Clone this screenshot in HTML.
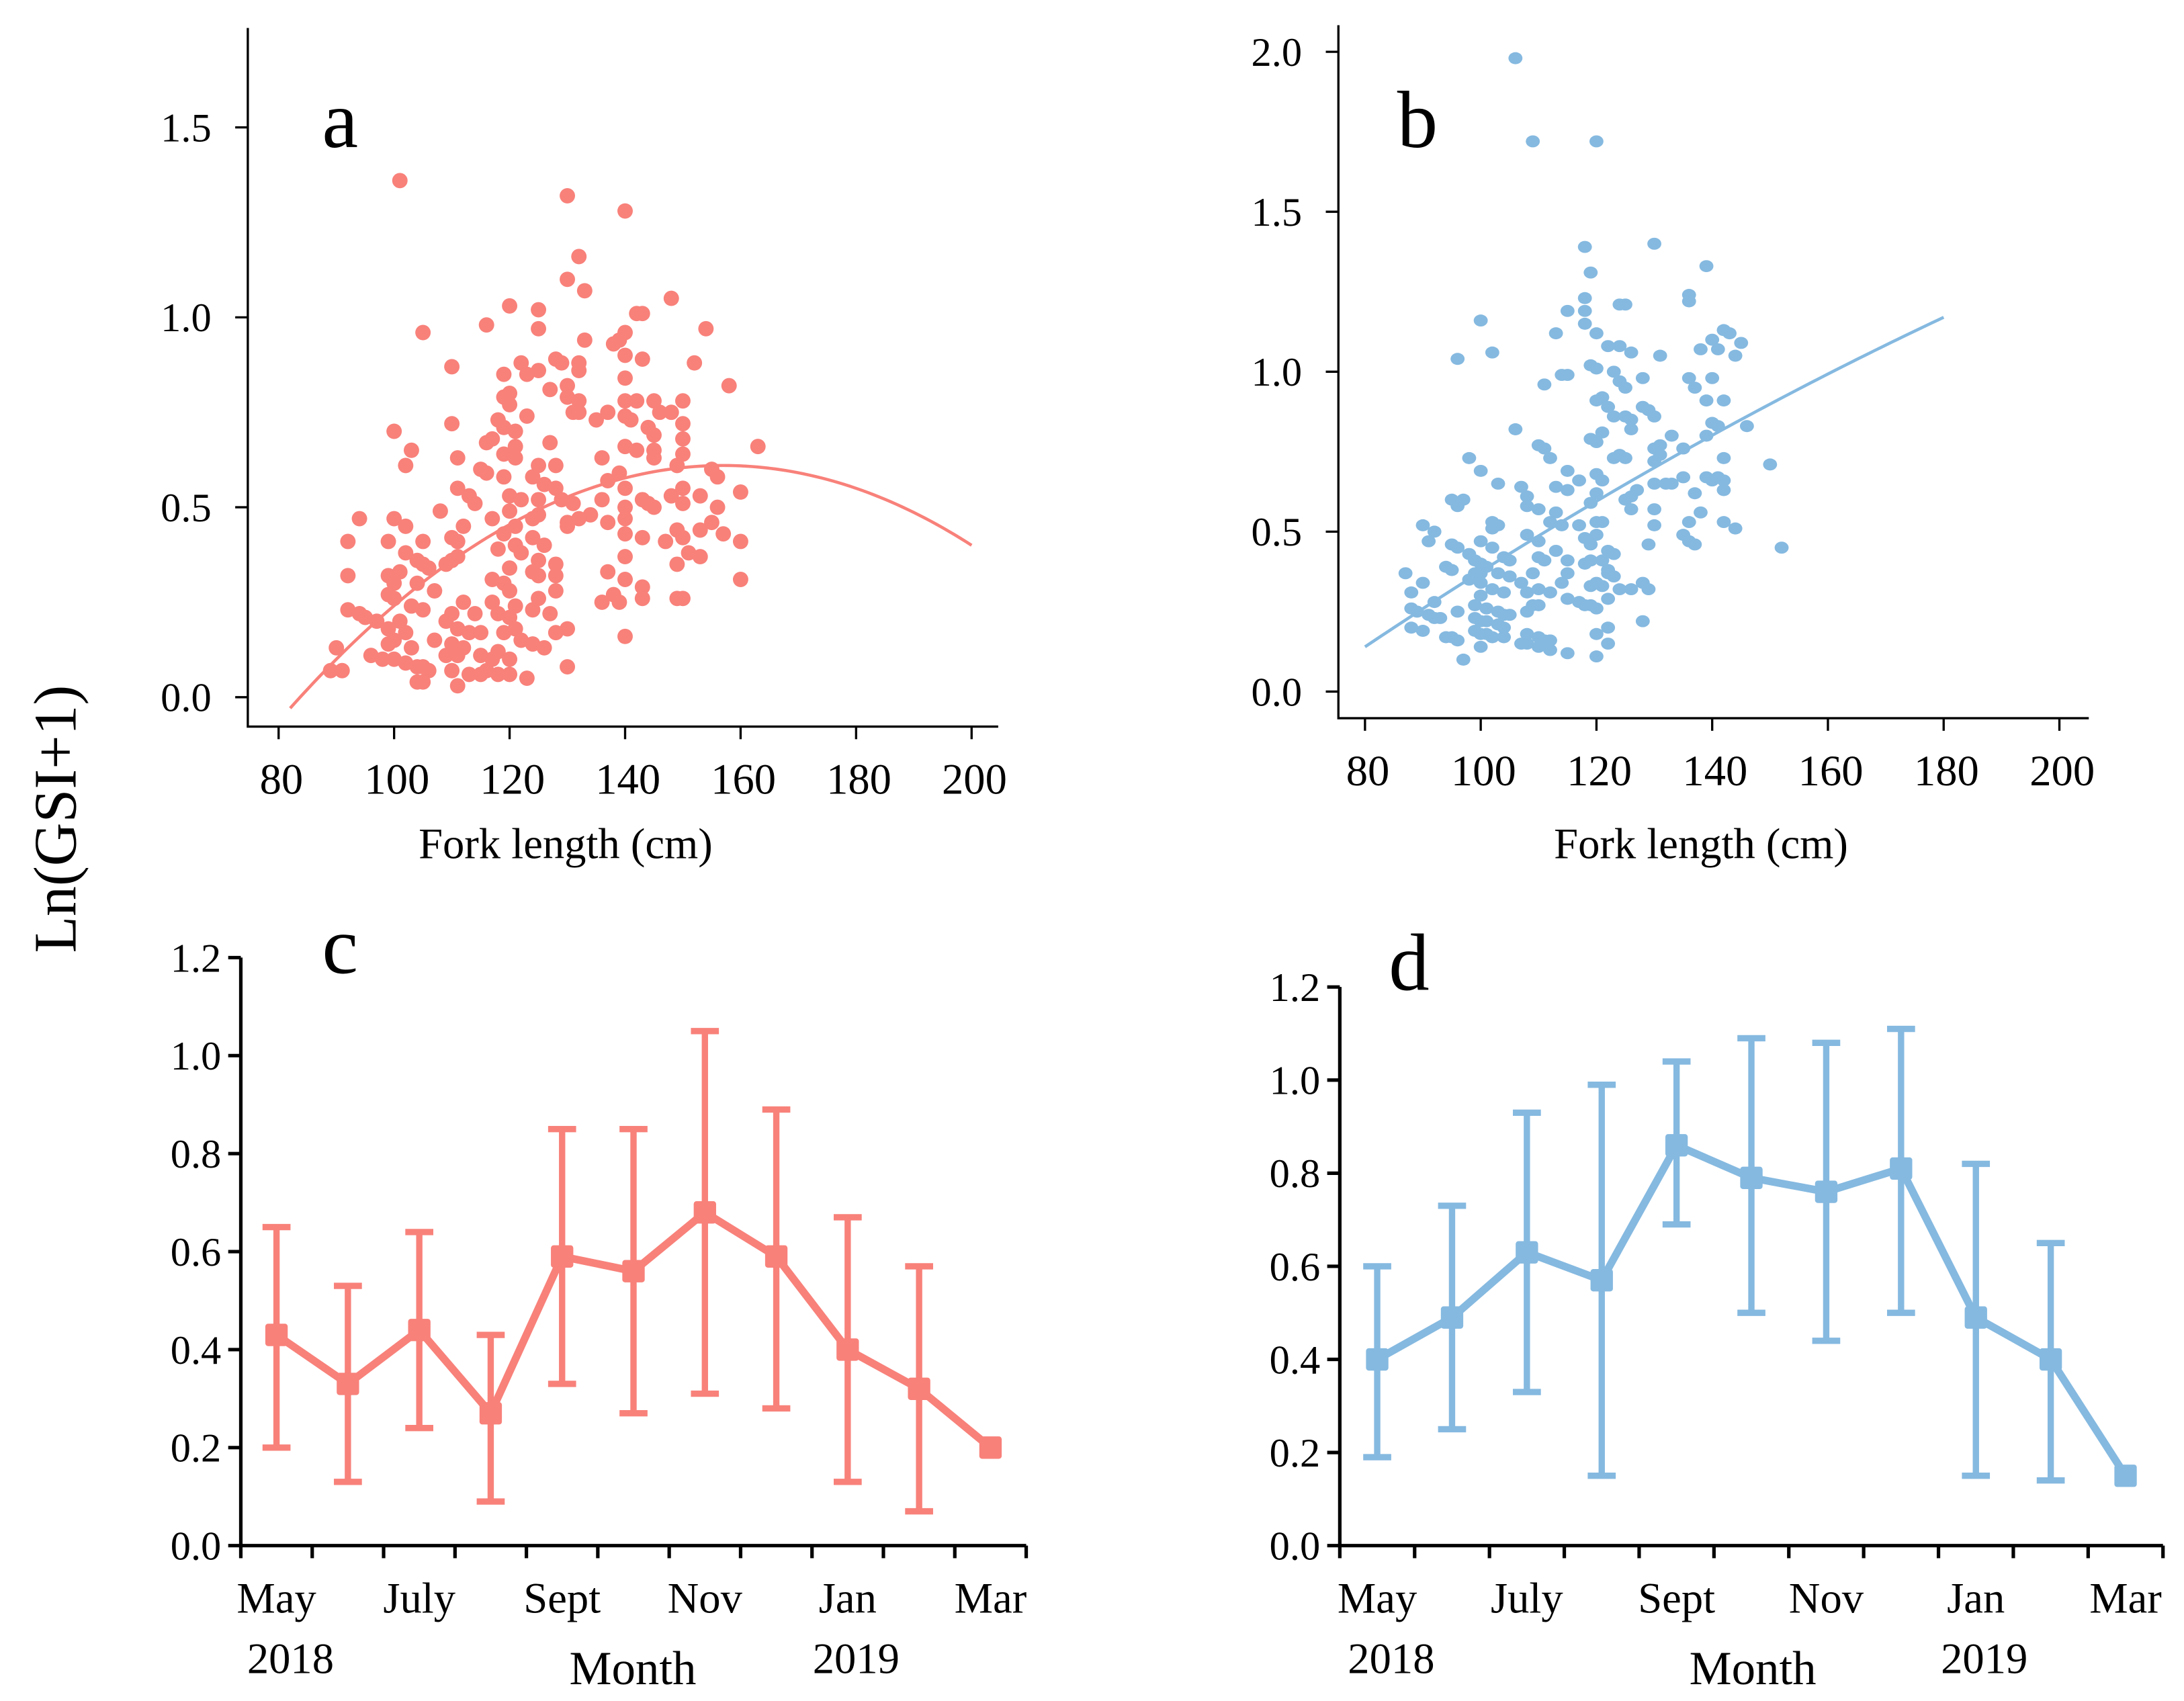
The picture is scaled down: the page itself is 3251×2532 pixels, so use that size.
<!DOCTYPE html>
<html><head><meta charset="utf-8">
<style>
html,body{margin:0;padding:0;background:#fff;}
svg{display:block;}
text{font-family:"Liberation Serif",serif;fill:#000;}
</style></head>
<body>
<svg id="fig" xmlns="http://www.w3.org/2000/svg" width="3251" height="2532" viewBox="0 0 1560 1215">
<rect width="1560" height="1215" fill="#fff"/>
<text x="0" y="0" font-size="43" text-anchor="middle" transform="translate(54,585) rotate(-90)">Ln(GSI+1)</text>
</svg>
<script>
// ---------- DATA ----------
const aFL=[101,130,140,132,130,133,148,120,125,142,143,116,125,154,105,140,139,133,138,140,128,143,152,122,132,129,110,125,132,123,119,130,140,158,127,120,119,130,132,140,142,145,150,120,146,148,131,132,137,123,135,140,141,118,150,110,119,121,144,100,145,117,150,116,127,163,121,140,142,103,145,119,150,121,145,111,136,125,128,102,149,115,116,155,139,119,124,156,137,126,128,140,111,150,153,120,125,113,122,136,143,148,160,114,129,131,144,150,156,140,145,108,120,125,134,130,100,94,132,117,137,124,140,155,112,102,121,130,149,153,140,157,119,110,99,92,105,111,124,143,150,147,160,126,121,118,102,122,151,153,140,111,104,110,125,128,105,149,109,106,120,124,99,92,101,137,128,125,160,117,140,104,119,143,100,107,128,99,120,138,149,150,112,100,103,117,121,125,136,139,143,92,94,95,110,114,105,118,124,97,101,109,120,127,99,111,113,115,119,121,130,102,128,140,107,100,110,122,124,99,112,90,103,118,126,96,98,100,102,104,105,106,109,111,115,117,120,89,91,110,113,115,118,120,123,130,104,105,111,116];
const aGSI=[1.36,1.32,1.28,1.16,1.10,1.07,1.05,1.03,1.02,1.01,1.01,0.98,0.97,0.97,0.96,0.96,0.94,0.94,0.93,0.90,0.89,0.89,0.88,0.88,0.88,0.88,0.87,0.86,0.86,0.85,0.85,0.82,0.84,0.82,0.81,0.80,0.79,0.79,0.78,0.78,0.78,0.78,0.78,0.77,0.75,0.75,0.75,0.75,0.75,0.74,0.73,0.74,0.73,0.73,0.72,0.72,0.71,0.70,0.71,0.70,0.69,0.68,0.68,0.67,0.67,0.66,0.66,0.66,0.65,0.65,0.65,0.64,0.64,0.63,0.63,0.63,0.63,0.61,0.61,0.61,0.61,0.60,0.59,0.60,0.59,0.58,0.58,0.58,0.57,0.56,0.55,0.55,0.55,0.55,0.53,0.53,0.52,0.53,0.52,0.52,0.52,0.53,0.54,0.51,0.52,0.51,0.51,0.51,0.50,0.50,0.50,0.49,0.49,0.48,0.48,0.46,0.47,0.47,0.47,0.47,0.46,0.47,0.47,0.46,0.45,0.45,0.45,0.45,0.44,0.44,0.43,0.43,0.43,0.42,0.41,0.41,0.41,0.41,0.42,0.42,0.42,0.41,0.41,0.40,0.40,0.39,0.38,0.38,0.38,0.37,0.37,0.37,0.36,0.36,0.36,0.35,0.35,0.35,0.35,0.34,0.34,0.33,0.32,0.32,0.33,0.33,0.32,0.32,0.31,0.31,0.31,0.30,0.30,0.29,0.30,0.28,0.28,0.27,0.28,0.27,0.26,0.26,0.25,0.26,0.24,0.25,0.24,0.26,0.25,0.25,0.26,0.23,0.22,0.21,0.22,0.22,0.23,0.22,0.23,0.20,0.20,0.20,0.21,0.22,0.18,0.18,0.17,0.17,0.17,0.18,0.18,0.17,0.17,0.16,0.15,0.15,0.14,0.15,0.14,0.14,0.13,0.13,0.13,0.12,0.13,0.11,0.10,0.10,0.09,0.08,0.08,0.07,0.11,0.11,0.11,0.10,0.10,0.07,0.07,0.07,0.06,0.06,0.06,0.06,0.05,0.08,0.04,0.04,0.03,0.07];
const aFitCoef=[0.61,157,0.0001136]; // peak value, peak FL, curvature
const aFitRange=[82,200];

const bFL=[106,109,120,118,130,139,119,136,136,118,124,125,115,118,100,118,113,120,142,143,140,145,141,138,122,124,102,126,131,144,96,119,120,123,114,115,128,136,140,111,124,125,137,120,121,139,142,122,128,129,130,123,126,125,140,141,146,106,126,121,133,139,119,110,111,120,130,131,135,124,125,123,112,98,150,142,100,115,120,130,131,135,139,140,141,142,103,107,113,115,117,121,130,132,133,142,137,120,127,126,108,95,97,96,108,110,113,119,125,126,130,138,102,103,102,90,92,112,114,117,120,121,130,136,142,144,108,110,100,91,95,96,102,113,118,119,120,122,123,129,135,136,137,152,98,99,100,101,104,105,110,111,115,118,119,121,122,87,94,95,99,100,103,105,107,109,114,115,122,123,90,98,100,102,104,108,110,112,119,120,121,124,126,128,129,88,92,100,99,101,103,104,105,108,109,110,115,117,118,119,120,122,88,89,91,92,93,96,99,100,101,103,104,128,88,90,94,95,96,99,100,101,102,104,107,108,108,110,110,111,112,112,115,120,122,122,100,97,120];
const bGSI=[1.98,1.72,1.72,1.39,1.40,1.33,1.31,1.24,1.22,1.23,1.21,1.21,1.19,1.19,1.16,1.15,1.12,1.12,1.13,1.12,1.10,1.09,1.07,1.07,1.08,1.08,1.06,1.06,1.05,1.05,1.04,1.02,1.01,1.00,0.99,0.99,0.98,0.98,0.98,0.96,0.97,0.95,0.95,0.91,0.92,0.91,0.91,0.89,0.89,0.88,0.86,0.86,0.85,0.86,0.84,0.83,0.83,0.82,0.82,0.81,0.80,0.80,0.79,0.77,0.76,0.78,0.76,0.77,0.76,0.74,0.73,0.73,0.73,0.73,0.71,0.73,0.69,0.69,0.68,0.72,0.74,0.67,0.67,0.66,0.67,0.66,0.65,0.64,0.64,0.63,0.66,0.66,0.65,0.65,0.65,0.63,0.62,0.62,0.63,0.61,0.61,0.60,0.60,0.58,0.58,0.57,0.56,0.59,0.60,0.57,0.57,0.56,0.53,0.52,0.51,0.52,0.50,0.53,0.52,0.52,0.53,0.53,0.52,0.53,0.53,0.51,0.49,0.47,0.47,0.47,0.46,0.45,0.45,0.44,0.48,0.46,0.49,0.44,0.43,0.46,0.49,0.47,0.46,0.45,0.43,0.41,0.40,0.39,0.42,0.41,0.42,0.41,0.41,0.40,0.41,0.41,0.38,0.37,0.39,0.38,0.37,0.37,0.37,0.36,0.34,0.37,0.34,0.37,0.37,0.36,0.34,0.35,0.34,0.32,0.31,0.31,0.32,0.31,0.33,0.34,0.33,0.32,0.32,0.34,0.32,0.31,0.28,0.30,0.27,0.26,0.25,0.24,0.24,0.25,0.27,0.27,0.29,0.28,0.27,0.27,0.26,0.29,0.26,0.25,0.24,0.23,0.23,0.25,0.23,0.22,0.22,0.21,0.20,0.22,0.20,0.19,0.17,0.17,0.16,0.19,0.18,0.18,0.17,0.17,0.15,0.18,0.15,0.17,0.14,0.16,0.13,0.16,0.12,0.18,0.20,0.15,0.14,0.10,0.11];
const bFitCoef=[0.7,130,0.0103,-0.000018]; // value at center, center FL, slope, curvature
const bFitRange=[80,180];

const months=["May","Jun","July","Aug","Sept","Oct","Nov","Dec","Jan","Feb","Mar"];
const monthLabels=["May","","July","","Sept","","Nov","","Jan","","Mar"];
const cMean=[0.43,0.33,0.44,0.27,0.59,0.56,0.68,0.59,0.40,0.32,0.20];
const cUpper=[0.65,0.53,0.64,0.43,0.85,0.85,1.05,0.89,0.67,0.57,null];
const cLower=[0.20,0.13,0.24,0.09,0.33,0.27,0.31,0.28,0.13,0.07,null];
const dMean=[0.40,0.49,0.63,0.57,0.86,0.79,0.76,0.81,0.49,0.40,0.15];
const dUpper=[0.60,0.73,0.93,0.99,1.04,1.09,1.08,1.11,0.82,0.65,null];
const dLower=[0.19,0.25,0.33,0.15,0.69,0.50,0.44,0.50,0.15,0.14,null];
const aYTicks=[0,0.5,1.0,1.5];
const bYTicks=[0,0.5,1.0,1.5,2.0];
const flTicks=[80,100,120,140,160,180,200];
const monthYTicks=[0,0.2,0.4,0.6,0.8,1.0,1.2];

// ---------- DRAWING ----------
const NS="http://www.w3.org/2000/svg";
const svg=document.getElementById('fig');
function mk(tag,attrs,parent){const e=document.createElementNS(NS,tag);for(const k in attrs)e.setAttribute(k,attrs[k]);(parent||svg).appendChild(e);return e;}
function lin(d0,d1,p0,p1){return v=>p0+(v-d0)*(p1-p0)/(d1-d0);}
const RED="#F8817A", BLUE="#85B9E0";

function txt(s,x,y,size,anchor,name,parent){
  const t=mk('text',{x:x,y:y,'font-size':size,'text-anchor':anchor||'middle'},parent);
  t.textContent=s;
  
  
  return t;
}

function scatterPanel(o){
  const g=mk('g',{});
  
  
  const X=lin(80,200,o.x80,o.x200), Y=lin(0,o.ymaxTick,o.y0,o.yTop);
  const ax=mk('path',{d:`M${o.axX},${o.axTop} V${o.axY} H${o.axRight}`,fill:'none',stroke:'#000','stroke-width':1.6},g);
  
  
  o.yTicks.forEach(v=>{
    const tk=mk('line',{x1:o.axX-9,x2:o.axX,y1:Y(v),y2:Y(v),stroke:'#000','stroke-width':1.6},g);
    
    
    txt(v.toFixed(1),o.axX-26,Y(v)+10,29,'end','y-tick-label',g);
  });
  flTicks.forEach(v=>{
    const tk=mk('line',{x1:X(v),x2:X(v),y1:o.axY,y2:o.axY+9,stroke:'#000','stroke-width':1.6},g);
    
    
    txt(String(v),X(v)+2,o.axY+48,31,'middle','x-tick-label',g);
  });
  txt('Fork length (cm)',o.titleX,613,31,'middle','x-axis-title',g);
  txt(o.letter,o.letterX,105,58,'start','panel-label',g);
  o.fl.forEach((f,i)=>{
    const c=mk('ellipse',{cx:X(f),cy:Y(o.gsi[i]),rx:o.rx,ry:o.ry,fill:o.color},g);
    
    
  });
  let d='';
  for(let f=o.range[0];f<=o.range[1]+0.01;f+=1){
    const yv=o.fit(f);
    d+=(d?'L':'M')+X(f).toFixed(2)+','+Y(yv).toFixed(2);
  }
  const cl=mk('clipPath',{id:'clip'+o.letter},g);
  mk('rect',{x:o.axX,y:o.axTop,width:o.axRight-o.axX,height:o.axY-o.axTop},cl);
  const fl=mk('path',{d:d,fill:'none',stroke:o.color,'stroke-width':2.2,'clip-path':`url(#clip${o.letter})`},g);
  
  
}

scatterPanel({name:'panel-a',letter:'a',letterX:230,x80:199,x200:694,y0:498,yTop:91,ymaxTick:1.5,axX:177,axTop:20,axY:519,axRight:713,
  yTicks:aYTicks,titleX:404,fl:aFL,gsi:aGSI,color:RED,rx:5.5,ry:5.5,range:aFitRange,
  fit:f=>aFitCoef[0]-aFitCoef[2]*(f-aFitCoef[1])*(f-aFitCoef[1])});
scatterPanel({name:'panel-b',letter:'b',letterX:998,x80:975,x200:1471,y0:494,yTop:37,ymaxTick:2.0,axX:956,axTop:18,axY:513,axRight:1492,
  yTicks:bYTicks,titleX:1215,fl:bFL,gsi:bGSI,color:BLUE,rx:5,ry:4.3,range:bFitRange,
  fit:f=>bFitCoef[0]+bFitCoef[2]*(f-bFitCoef[1])+bFitCoef[3]*(f-bFitCoef[1])*(f-bFitCoef[1])});

function monthPanel(o){
  const g=mk('g',{});
  
  
  const n=months.length, step=(o.axRight-o.axX)/n;
  const X=i=>o.axX+step*(i+0.5);
  const Y=lin(0,1.2,o.axY,o.axTop);
  const ax=mk('path',{d:`M${o.axX},${o.axTop} V${o.axY} H${o.axRight}`,fill:'none',stroke:'#000','stroke-width':2.5},g);
  
  
  monthYTicks.forEach(v=>{
    const tk=mk('line',{x1:o.axX-9,x2:o.axX,y1:Y(v),y2:Y(v),stroke:'#000','stroke-width':2.5},g);
    
    
    txt(v.toFixed(1),o.axX-14,Y(v)+10,29,'end','y-tick-label',g);
  });
  for(let i=0;i<=n;i++){
    const tk=mk('line',{x1:o.axX+step*i,x2:o.axX+step*i,y1:o.axY,y2:o.axY+9,stroke:'#000','stroke-width':2.5},g);
    
    
  }
  monthLabels.forEach((m,i)=>{ if(m) txt(m,X(i),o.axY+48,31,'middle','month-label',g); });
  txt('2018',X(0)+10,1195,31,'middle','year-label-2018',g);
  txt('2019',X(8)+6,1195,31,'middle','year-label-2019',g);
  txt('Month',o.monthX,1203,34,'middle','x-axis-title',g);
  txt(o.letter,o.letterX,o.letterY,58,'start','panel-label',g);
  o.mean.forEach((m,i)=>{
    if(o.up[i]==null) return;
    const x=X(i);
    const eb=mk('path',{d:`M${x},${Y(o.up[i])} V${Y(o.lo[i])} M${x-10},${Y(o.up[i])} H${x+10} M${x-10},${Y(o.lo[i])} H${x+10}`,fill:'none',stroke:o.color,'stroke-width':4.5},g);
    
    
  });
  const ln=mk('polyline',{points:o.mean.map((m,i)=>X(i)+','+Y(m)).join(' '),fill:'none',stroke:o.color,'stroke-width':5.5,'stroke-linejoin':'round'},g);
  
  
  o.mean.forEach((m,i)=>{
    const r=mk('rect',{x:X(i)-8,y:Y(m)-8,width:16,height:16,rx:2,fill:o.color},g);
    
    
  });
}
monthPanel({name:'panel-c',letter:'c',letterX:230,letterY:695,axX:172,axRight:733,axTop:684,axY:1104,mean:cMean,up:cUpper,lo:cLower,color:RED,monthX:452});
monthPanel({name:'panel-d',letter:'d',letterX:992,letterY:707,axX:957,axRight:1545,axTop:705,axY:1104,mean:dMean,up:dUpper,lo:dLower,color:BLUE,monthX:1252});
</script>
</body></html>
